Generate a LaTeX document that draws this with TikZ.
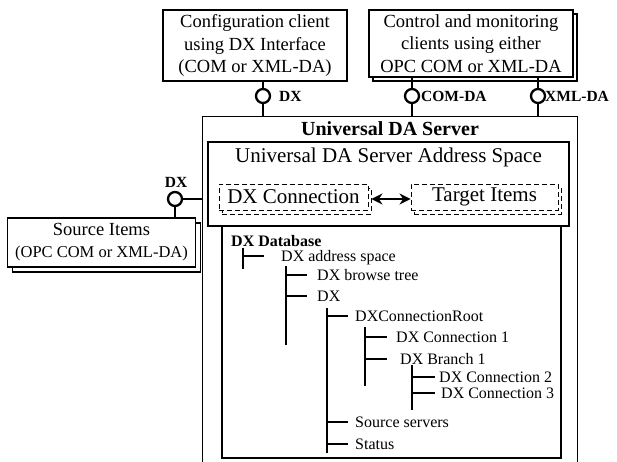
\documentclass[tikz,border=0pt]{standalone}
\usepackage{fontspec}
\setmainfont{Liberation Serif}
\usetikzlibrary{arrows.meta,shadows}
\begin{document}
\begin{tikzpicture}[x=1pt,y=-1pt,
  box/.style={draw, line width=1.2pt, fill=white, inner sep=0pt, align=center},
  stack/.style={copy shadow={shadow xshift=#1, shadow yshift=-#1, draw, fill=white, line width=1.2pt}},
  dbox/.style={draw, dash pattern=on 5pt off 3pt, line width=0.9pt, fill=white, inner sep=0pt,
    copy shadow={shadow xshift=3pt, shadow yshift=-4pt, draw, dash pattern=on 5pt off 3pt, fill=white, line width=0.9pt}},
  lolli/.style={circle, draw, line width=2.3pt, fill=white, minimum size=14pt, inner sep=0pt},
  wire/.style={line width=2.3pt},
  ifl/.style={font=\bfseries\fontsize{15.5}{18}\selectfont, inner sep=0pt, anchor=west},
  branch/.style={line width=2pt},
  leaf/.style={anchor=west, inner xsep=#1, inner ysep=0pt, text height=13pt, text depth=2.4pt,
    font=\fontsize{16}{19}\selectfont},
  leaf/.default=9pt,
  bigtext/.style={font=\fontsize{18.5}{22.5}\selectfont},
]
\useasboundingbox (0,0) rectangle (617,462);

% client boxes at the top
\node[box, bigtext, minimum width=184pt, minimum height=71pt] (cfg) at (255,45.5)
  {Configuration client\\using DX Interface\\(COM or XML-DA)};
\node[box, bigtext, stack=4pt, minimum width=204pt, minimum height=67pt] (ctl) at (471,43.5)
  {Control and monitoring\\clients using either\\OPC COM or XML-DA};

% server frame, open at the bottom
\node[minimum width=374pt, minimum height=345pt, inner sep=0pt] (srv) at (390,289.5) {};
\draw[line width=1.2pt] (srv.south west) -- (srv.north west) -- (srv.north east) -- (srv.south east);
\node[font=\bfseries\fontsize{20}{24}\selectfont, inner sep=0pt] (srvt) at (390,129) {Universal DA Server};

% address space
\node[box, minimum width=361pt, minimum height=84pt] (as) at (388.5,184) {};
\node[font=\fontsize{21}{25}\selectfont, inner sep=0pt] (ast) at (388.5,157) {Universal DA Server Address Space};
\node[dbox, minimum width=149pt, minimum height=26pt, font=\fontsize{21}{25}\selectfont] (dxc) at (293.5,197) {DX Connection};
\node[dbox, minimum width=147pt, minimum height=26pt, font=\fontsize{21}{25}\selectfont] (tgt) at (484.5,197) {Target Items};
\draw[{Stealth[length=11pt,width=11pt]}-{Stealth[length=11pt,width=11pt]}, line width=2.6pt]
  ([xshift=3pt,yshift=-2pt]dxc.east) -- ([yshift=-2pt]tgt.west);

% DX database
\node[box, minimum width=339pt, minimum height=232pt] (db) at (391.5,342) {};
\node[font=\bfseries\fontsize{16}{19}\selectfont, anchor=west, inner sep=0pt] (dbt) at (231,241) {DX Database};

% interfaces to the clients
\node[lolli] (ldx) at (263,96) {};
\node[lolli] (lcom) at (412,96) {};
\node[lolli] (lxml) at (538,96) {};
\draw[wire] (cfg.south -| ldx) -- (ldx.north);
\draw[wire] (ldx.south) -- (ldx |- srv.north);
\draw[wire] (ctl.south -| lcom) -- (lcom.north);
\draw[wire] (lcom.south) -- (lcom |- srv.north);
\draw[wire] (ctl.south -| lxml) -- (lxml.north);
\draw[wire] (lxml.south) -- (lxml |- srv.north);
\node[ifl] (ldxl) at (279,96) {DX};
\node[ifl] (lcoml) at (421,96) {COM-DA};
\node[ifl] (lxmll) at (545,96) {XML-DA};

% source items and their interface
\node[box, stack=5pt, minimum width=188pt, minimum height=49pt, font=\fontsize{18.5}{22}\selectfont] (src) at (101.5,242.5)
  {Source Items\\{\fontsize{16.5}{20}\selectfont (OPC COM or XML-DA)}};
\node[lolli] (sdx) at (175,199) {};
\draw[wire] (sdx.east) -- (sdx -| srv.west);
\draw[wire] (sdx.south) -- (sdx |- src.north);
\node[ifl, anchor=center] (sdxl) at (176,182) {DX};

% tree of the DX database
\coordinate (v0a) at (243,248); \coordinate (v0b) at (243,269);
\coordinate (v1a) at (286,266); \coordinate (v1b) at (286,345);
\coordinate (v2a) at (327,308); \coordinate (v2b) at (327,453);
\coordinate (v3a) at (365,327); \coordinate (v3b) at (365,386);
\coordinate (v4a) at (412,365); \coordinate (v4b) at (412,410);
\foreach \a/\b in {v0a/v0b,v1a/v1b,v2a/v2b,v3a/v3b,v4a/v4b}
  \draw[branch] (\a) -- (\b);

\node[leaf=17pt] (t0) at (264,256) {DX address space};
\node[leaf=10pt] (t1) at (307,275) {DX browse tree};
\node[leaf=10pt] (t2) at (307,296) {DX};
\node[leaf=7pt]  (t3) at (348,316) {DXConnectionRoot};
\node[leaf=9pt]  (t4) at (387,337) {DX Connection 1};
\node[leaf=13pt] (t5) at (387,359) {DX Branch 1};
\node[leaf=4pt]  (t6) at (435,377) {DX Connection 2};
\node[leaf=6pt]  (t7) at (435,393) {DX Connection 3};
\node[leaf=7pt]  (t8) at (348,422) {Source servers};
\node[leaf=7pt]  (t9) at (348,444) {Status};

\draw[branch] (v0a |- t0.west) -- (t0.west);
\draw[branch] (v1a |- t1.west) -- (t1.west);
\draw[branch] (v1a |- t2.west) -- (t2.west);
\draw[branch] (v2a |- t3.west) -- (t3.west);
\draw[branch] (v2a |- t8.west) -- (t8.west);
\draw[branch] (v2a |- t9.west) -- (t9.west);
\draw[branch] (v3a |- t4.west) -- (t4.west);
\draw[branch] (v3a |- t5.west) -- (t5.west);
\draw[branch] (v4a |- t6.west) -- (t6.west);
\draw[branch] (v4a |- t7.west) -- (t7.west);
\end{tikzpicture}
\end{document}
